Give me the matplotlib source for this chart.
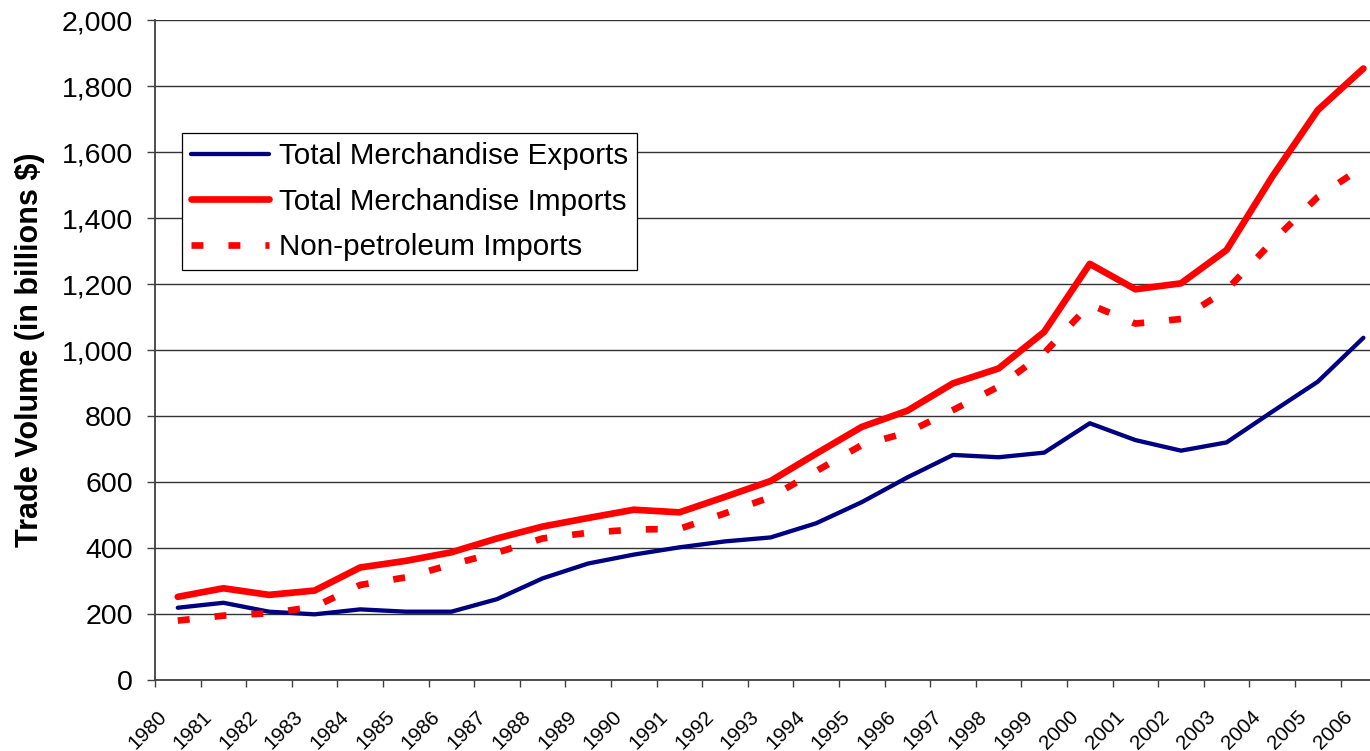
import matplotlib
matplotlib.use("Agg")
import matplotlib.pyplot as plt
import numpy as np

years = list(range(1980, 2007))
exports = [219, 234, 207, 199, 214, 207, 207, 245, 308, 353, 380, 402, 420, 432,
           475, 539, 614, 682, 675, 689, 778, 727, 695, 720, 813, 904, 1037]
imports = [252, 278, 258, 271, 341, 361, 387, 429, 465, 491, 516, 508, 555, 603,
           686, 767, 816, 899, 944, 1055, 1261, 1184, 1202, 1303, 1525, 1727, 1853]
nonpet = [180, 195, 202, 222, 288, 311, 350, 386, 429, 446, 456, 458, 505, 554,
          633, 712, 750, 818, 889, 991, 1138, 1080, 1094, 1182, 1328, 1464, 1556]
series_labels = ["Total Merchandise Exports", "Total Merchandise Imports",
                 "Non-petroleum Imports"]
yticks = list(range(0, 2001, 200))

plt.rcParams['font.family'] = ['Liberation Sans', 'DejaVu Sans']
plt.rcParams['lines.scale_dashes'] = False

W, H = 1370, 751
STEP = 45.6
fig = plt.figure(figsize=(W / 100, H / 100), dpi=100)
ax = fig.add_axes([155 / W, (H - 680) / H, 27 * STEP / W, 660 / H])

x = np.arange(len(years)) + 0.5
ax.plot(x, exports, color='#000080', lw=3.1, solid_joinstyle='round',
        solid_capstyle='round', label=series_labels[0], zorder=3)
ax.plot(x, imports, color='#FF0000', lw=4.8, solid_joinstyle='round',
        solid_capstyle='round', label=series_labels[1], zorder=4)
ax.plot(x, nonpet, color='#FF0000', lw=4.8, linestyle=(0, (8.6, 18.0)),
        dash_capstyle='butt', label=series_labels[2], zorder=5)

ax.set_xlim(0, 27)
ax.set_ylim(0, 2000)
ax.set_yticks(yticks)
ax.set_yticklabels([f"{v:,}" for v in yticks], fontsize=20.5)

# major ticks: tick marks between categories; minor ticks: carry the labels
ax.set_xticks(np.arange(len(years)))
ax.set_xticklabels([])
lab_shift = 8.5 / STEP
ax.set_xticks(np.arange(len(years)) + lab_shift, minor=True)
ax.set_xticklabels([str(y) for y in years], minor=True, fontsize=14.8, rotation=45,
                   ha='right', va='center', rotation_mode='anchor')
ax.tick_params(axis='x', which='minor', length=0, pad=24.5)

ax.grid(axis='y', which='major', color='#333333', lw=1.0, zorder=1)
ax.set_axisbelow(True)
for s in ['top', 'right']:
    ax.spines[s].set_visible(False)
for s in ['left', 'bottom']:
    ax.spines[s].set_color('#404040')
    ax.spines[s].set_linewidth(1.3)
ax.tick_params(axis='y', direction='out', length=6, width=1, color='#404040', pad=10)
ax.tick_params(axis='x', which='major', direction='out', length=5, width=1,
               color='#404040')

ax.set_ylabel("Trade Volume (in billions $)", fontsize=22, fontweight='bold')
ax.yaxis.set_label_coords((45 - 155) / (27 * STEP), 0.5)

leg = ax.legend(loc='upper left', bbox_to_anchor=(182 / W, 1 - 133 / H),
                bbox_transform=fig.transFigure, borderaxespad=0, fontsize=21.3,
                frameon=True, fancybox=False, framealpha=1, edgecolor='black',
                handlelength=2.65, handletextpad=0.32, labelspacing=0.6,
                borderpad=0.3)
leg.get_frame().set_linewidth(0.9)

fig.savefig("out.png", dpi=100)
